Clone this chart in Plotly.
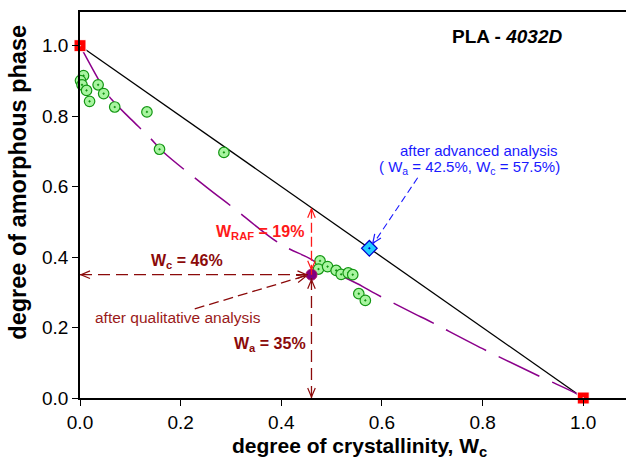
import plotly.graph_objects as go

# ---- data -------------------------------------------------------------
# measured points (degree of crystallinity, degree of amorphous phase)
meas_x = [0.007, 0.001, 0.004, 0.013, 0.019, 0.036, 0.047, 0.069, 0.133, 0.158, 0.286,
          0.477, 0.474, 0.492, 0.509, 0.519, 0.533, 0.542, 0.554, 0.567]
meas_y = [0.915, 0.901, 0.889, 0.873, 0.842, 0.889, 0.864, 0.826, 0.812, 0.706, 0.697,
          0.389, 0.366, 0.373, 0.362, 0.351, 0.355, 0.350, 0.296, 0.277]

# two-phase limit line (fully amorphous -> fully crystalline)
limit_x = [0.0, 1.0]
limit_y = [1.0, 0.0]

# fitted three-phase curve
curve_x = [0.0, 0.045, 0.063, 0.100, 0.138, 0.165, 0.250, 0.300, 0.397, 0.455, 0.483,
           0.561, 0.587, 0.665, 0.692, 0.800, 0.914, 0.987, 1.0]
curve_y = [1.0, 0.884, 0.847, 0.793, 0.740, 0.699, 0.600, 0.545, 0.438, 0.397, 0.373,
           0.317, 0.296, 0.239, 0.220, 0.140, 0.061, 0.012, 0.0]

# qualitative analysis result
wc_qual = 0.46
wa_qual = 0.35
w_raf = 0.19

# advanced analysis result
wc_adv = 0.575
wa_adv = 0.425

tick_vals = [0.0, 0.2, 0.4, 0.6, 0.8, 1.0]
tick_text = ["0.0", "0.2", "0.4", "0.6", "0.8", "1.0"]

# ---- layout geometry ----------------------------------------------------
W, H = 626, 459
ML, MR, MT, MB = 80, 0, 12, 61
XMAX = 1.085
YMAX = 1.0956
SX = (W - ML - MR) / XMAX
SY = (H - MT - MB) / YMAX

FONT = "Liberation Sans, Arial, sans-serif"
DARKRED = "#8b0a0a"
RED = "#ff1a1a"
BLUE = "#1a1aff"

fig = go.Figure()

fig.add_trace(go.Scatter(x=limit_x, y=limit_y, mode="lines",
                         line=dict(color="black", width=1.3), hoverinfo="skip"))
fig.add_trace(go.Scatter(x=curve_x, y=curve_y, mode="lines", line_shape="spline",
                         line=dict(color="#8b008b", width=1.5, dash="45px,14px"),
                         hoverinfo="skip"))

shapes = []
annotations = []


def dashed(x0, y0, x1, y1, color, dash, width=1.3):
    shapes.append(dict(type="line", xref="x", yref="y", x0=x0, y0=y0, x1=x1, y1=y1,
                       line=dict(color=color, width=width, dash=dash)))


def head(xt, yt, xf, yf, color, standoff=0.0, length=9.0, spread=0.42):
    """open V arrowhead whose tip sits near (xt, yt), pointing away from (xf, yf)"""
    dx = (xf - xt) * SX
    dy = (yf - yt) * SY
    n = (dx * dx + dy * dy) ** 0.5
    ux, uy = dx / n, dy / n
    tx, ty = ux * standoff, uy * standoff
    px, py = -uy, ux
    w1 = (tx + ux * length + px * length * spread, ty + uy * length + py * length * spread)
    w2 = (tx + ux * length - px * length * spread, ty + uy * length - py * length * spread)

    def d(p):
        return xt + p[0] / SX, yt + p[1] / SY

    a, b, c = d(w1), d((tx, ty)), d(w2)
    shapes.append(dict(type="path", xref="x", yref="y",
                       path="M %.5f,%.5f L %.5f,%.5f L %.5f,%.5f" % (a + b + c),
                       line=dict(color=color, width=1.2)))


# W_RAF double arrow between the point and the two-phase line
dashed(wc_qual, wa_qual, wc_qual, 1 - wc_qual, RED, "10px,4px")
head(wc_qual, 1 - wc_qual, wc_qual, wa_qual, RED, standoff=1)
head(wc_qual, wa_qual, wc_qual, 1 - wc_qual, RED, standoff=5)

# W_c horizontal and W_a vertical double arrows
dashed(0, wa_qual, wc_qual, wa_qual, DARKRED, "12px,6px")
head(0, wa_qual, wc_qual, wa_qual, DARKRED, standoff=1)
head(wc_qual, wa_qual, 0, wa_qual, DARKRED, standoff=5)
dashed(wc_qual, 0, wc_qual, wa_qual, DARKRED, "12px,6px")
head(wc_qual, 0, wc_qual, wa_qual, DARKRED, standoff=1)
head(wc_qual, wa_qual, wc_qual, 0, DARKRED, standoff=5)

# "after qualitative analysis" pointer
q_tail = (0.228, 0.253)
dashed(q_tail[0], q_tail[1], wc_qual - 0.012, wa_qual - 0.003, DARKRED, "10px,5px")
head(wc_qual, wa_qual, q_tail[0], q_tail[1], DARKRED, standoff=6)

# "after advanced analysis" pointer
a_tail = (0.671, 0.625)
dashed(a_tail[0], a_tail[1], wc_adv + 0.008, wa_adv + 0.013, BLUE, "7px,4px", width=1.1)
head(wc_adv, wa_adv, a_tail[0], a_tail[1], BLUE, standoff=6)

# markers
fig.add_trace(go.Scatter(x=meas_x, y=meas_y, mode="markers", cliponaxis=False,
                         marker=dict(symbol="circle-dot", size=10.5, color="#a8f5a0",
                                     line=dict(color="#129612", width=1.2)),
                         hoverinfo="skip"))
fig.add_trace(go.Scatter(x=limit_x, y=limit_y, mode="markers", cliponaxis=False,
                         marker=dict(symbol="square-dot", size=12, color="#ff0000",
                                     line=dict(color="white", width=1)),
                         hoverinfo="skip"))
fig.add_trace(go.Scatter(x=[wc_adv], y=[wa_adv], mode="markers", cliponaxis=False,
                         marker=dict(symbol="diamond-dot", size=12, color="#22ccff",
                                     line=dict(color="#0000cc", width=1.2)),
                         hoverinfo="skip"))
fig.add_trace(go.Scatter(x=[wc_qual], y=[wa_qual], mode="markers", cliponaxis=False,
                         marker=dict(symbol="circle", size=11, color="#800080",
                                     line=dict(color="#b0106a", width=1)),
                         hoverinfo="skip"))

# text labels
annotations += [
    dict(x=0.848, y=1.025, xref="x", yref="y", showarrow=False,
         text="<b>PLA - <i>4032D</i></b>", font=dict(family=FONT, size=19, color="black")),
    dict(x=0.793, y=0.702, xref="x", yref="y", showarrow=False,
         text="after advanced analysis", font=dict(family=FONT, size=15, color=BLUE)),
    dict(x=0.774, y=0.653, xref="x", yref="y", showarrow=False,
         text="( W<sub>a</sub> = %.1f%%, W<sub>c</sub> = %.1f%%)" % (wa_adv * 100, wc_adv * 100),
         font=dict(family=FONT, size=15, color=BLUE)),
    dict(x=0.358, y=0.469, xref="x", yref="y", showarrow=False,
         text="<b>W<sub>RAF</sub> = %d%%</b>" % round(w_raf * 100),
         font=dict(family=FONT, size=16, color=RED)),
    dict(x=0.213, y=0.387, xref="x", yref="y", showarrow=False,
         text="<b>W<sub>c</sub> = %d%%</b>" % round(wc_qual * 100),
         font=dict(family=FONT, size=16, color=DARKRED)),
    dict(x=0.378, y=0.151, xref="x", yref="y", showarrow=False,
         text="<b>W<sub>a</sub> = %d%%</b>" % round(wa_qual * 100),
         font=dict(family=FONT, size=16, color=DARKRED)),
    dict(x=0.195, y=0.228, xref="x", yref="y", showarrow=False,
         text="after qualitative analysis", font=dict(family=FONT, size=15.5, color="#9a1a1a")),
    # axis titles
    dict(x=0.555, y=-0.126, xref="x", yref="paper", showarrow=False,
         xanchor="center", yanchor="middle",
         text="<b>degree of crystallinity, W<sub>c</sub></b>",
         font=dict(family=FONT, size=21, color="black")),
    dict(x=-0.113, y=0.612, xref="paper", yref="y", showarrow=False, textangle=-90,
         xanchor="center", yanchor="middle",
         text="<b>degree of amorphous phase</b>",
         font=dict(family=FONT, size=23.5, color="black")),
]

axis_common = dict(showline=True, linecolor="black", linewidth=1.5, ticks="outside",
                   ticklen=6, tickwidth=1.2, tickcolor="black", showgrid=False,
                   zeroline=False, tickvals=tick_vals, ticktext=tick_text,
                   tickfont=dict(family=FONT, size=19, color="black"))

fig.update_layout(
    width=W, height=H,
    margin=dict(l=ML, r=MR, t=MT, b=MB),
    paper_bgcolor="white", plot_bgcolor="white",
    showlegend=False,
    xaxis=dict(range=[0, XMAX], mirror=True, **axis_common),
    yaxis=dict(range=[0, YMAX], mirror=False, **axis_common),
    shapes=shapes,
    annotations=annotations,
)

fig.write_html("out.html")
